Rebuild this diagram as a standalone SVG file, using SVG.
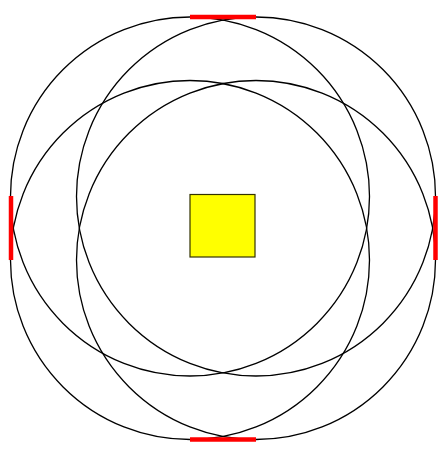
<svg xmlns="http://www.w3.org/2000/svg" width="446" height="456" viewBox="0 0 446 456">
<style>
.c{fill:none;stroke:#000;stroke-width:1.3}
.r{stroke:#f00;stroke-width:4.5;stroke-linecap:butt}
</style>
<rect width="446" height="456" fill="#fff"/>
<g id="circles">
<circle id="c1" class="c" cx="190" cy="196.5" r="179.5"/>
<circle id="c2" class="c" cx="256" cy="196.5" r="179.5"/>
<circle id="c3" class="c" cx="190" cy="260" r="179.5"/>
<circle id="c4" class="c" cx="256" cy="260" r="179.5"/>
</g>
<g id="connectors">
<line class="r" x1="190" y1="17" x2="256" y2="17"/>
<line class="r" x1="190" y1="439.5" x2="256" y2="439.5"/>
<line class="r" x1="11" y1="196" x2="11" y2="260"/>
<line class="r" x1="435.5" y1="196" x2="435.5" y2="260"/>
</g>
<g id="square">
<rect x="190" y="194.5" width="65" height="62.5" fill="#ff0" stroke="#333300" stroke-width="1.2"/>
</g>
</svg>
